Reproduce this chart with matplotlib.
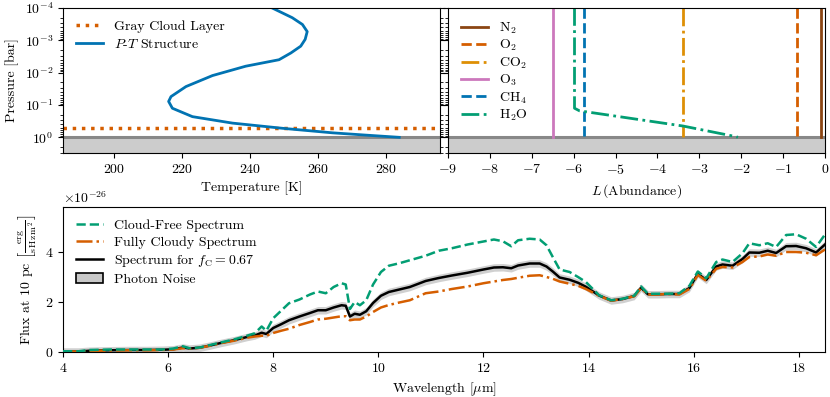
import matplotlib
matplotlib.use('Agg')
import matplotlib.pyplot as plt
import matplotlib.patches as mpatches
import numpy as np

plt.rcParams['font.family'] = ['cmr10', 'DejaVu Serif']
plt.rcParams['mathtext.fontset'] = 'cm'
plt.rcParams['axes.formatter.use_mathtext'] = True
plt.rcParams['font.size'] = 10
plt.rcParams['axes.unicode_minus'] = True

# P-T profile (log10 pressure in bar, temperature in K)
ptLogP = [-4.0, -3.70, -3.49, -3.27, -3.03, -2.82, -2.61, -2.40, -2.20, -1.91, -1.57,
          -1.26, -1.11, -0.90, -0.64, -0.44, -0.28, -0.14, -0.07, 0.0]
ptTemp = [246.6, 252.5, 255.5, 256.9, 256.3, 255.0, 252.1, 248.6, 238.8, 229.0, 221.2,
          216.8, 216.1, 217.2, 223.1, 234.9, 249.6, 264.3, 274.0, 284.0]
cloudPressure = 0.53
surfacePressure = 1.0

# abundances (log10 volume mixing ratio)
gasNames = ['N$_2$', 'O$_2$', 'CO$_2$', 'O$_3$', 'CH$_4$', 'H$_2$O']
gasAbund = [-0.1, -0.68, -3.38, -6.5, -5.75, None]
h2oLogP = [-4.0, -0.90, -0.82, -0.35, -0.02, 0.0]
h2oAbund = [-5.98, -5.98, -5.86, -3.39, -2.12, -2.08]

# spectra (units of 1e-26)
wl = [4.0, 4.3, 4.5, 4.9, 5.3, 5.6, 5.9, 6.1, 6.28, 6.41, 6.6, 6.8, 7.0, 7.25, 7.5, 7.65,
      7.78, 7.87, 8.0, 8.15, 8.3, 8.5, 8.7, 8.85, 9.0, 9.15, 9.3, 9.38, 9.46, 9.55, 9.65,
      9.77, 9.9, 10.05, 10.2, 10.4, 10.6, 10.9, 11.15, 11.4, 11.7, 12.0, 12.2, 12.37,
      12.53, 12.66, 12.88, 13.07, 13.2, 13.32, 13.45, 13.64, 13.8, 13.95, 14.2, 14.43,
      14.65, 14.87, 15.0, 15.13, 15.32, 15.51, 15.73, 15.92, 16.08, 16.24, 16.43, 16.55,
      16.74, 16.93, 17.06, 17.25, 17.41, 17.57, 17.76, 17.95, 18.14, 18.33, 18.5]
fluxFree = [0.03, 0.03, 0.08, 0.1, 0.1, 0.1, 0.1, 0.14, 0.23, 0.15, 0.18, 0.28, 0.38, 0.5,
            0.65, 0.75, 1.02, 0.85, 1.35, 1.65, 1.95, 2.1, 2.3, 2.42, 2.35, 2.6, 2.75, 2.7,
            1.72, 2.0, 1.87, 2.07, 2.7, 3.2, 3.45, 3.55, 3.67, 3.85, 4.05, 4.15, 4.3, 4.42,
            4.5, 4.43, 4.23, 4.47, 4.53, 4.5, 4.27, 3.8, 3.3, 3.2, 3.0, 2.8, 2.27, 2.07,
            2.13, 2.25, 2.62, 2.33, 2.33, 2.33, 2.35, 2.65, 3.22, 2.95, 3.6, 3.7, 3.6, 3.95,
            4.35, 4.27, 4.35, 4.2, 4.68, 4.71, 4.53, 4.2, 4.7]
fluxCloudy = [0.02, 0.02, 0.04, 0.06, 0.07, 0.07, 0.08, 0.1, 0.15, 0.13, 0.17, 0.25, 0.35,
              0.45, 0.57, 0.62, 0.65, 0.65, 0.76, 0.85, 0.93, 1.08, 1.2, 1.3, 1.33, 1.38,
              1.43, 1.43, 1.27, 1.3, 1.3, 1.42, 1.6, 1.78, 1.88, 1.98, 2.07, 2.35, 2.42,
              2.52, 2.62, 2.75, 2.82, 2.88, 2.92, 2.97, 3.05, 3.07, 3.0, 2.93, 2.82, 2.73,
              2.65, 2.52, 2.25, 2.05, 2.12, 2.23, 2.55, 2.3, 2.3, 2.32, 2.3, 2.52, 3.08,
              2.85, 3.33, 3.4, 3.38, 3.6, 3.8, 3.82, 3.9, 3.85, 4.0, 4.0, 3.97, 3.87, 4.1]
fluxMix = [0.02, 0.02, 0.05, 0.07, 0.08, 0.08, 0.09, 0.11, 0.18, 0.14, 0.17, 0.26, 0.36,
           0.47, 0.6, 0.66, 0.77, 0.72, 0.96, 1.11, 1.27, 1.42, 1.56, 1.67, 1.67, 1.78,
           1.87, 1.85, 1.42, 1.53, 1.49, 1.63, 1.96, 2.25, 2.4, 2.5, 2.6, 2.84, 2.96, 3.06,
           3.17, 3.3, 3.38, 3.39, 3.35, 3.46, 3.54, 3.54, 3.42, 3.22, 2.98, 2.89, 2.77,
           2.61, 2.26, 2.06, 2.12, 2.24, 2.57, 2.31, 2.31, 2.32, 2.32, 2.56, 3.13, 2.88,
           3.42, 3.5, 3.45, 3.72, 3.98, 3.97, 4.05, 3.96, 4.23, 4.24, 4.15, 3.98, 4.3]
photonNoise = 0.15

cGreen = '#029e73'
cVerm = '#d55e00'
cOrange = '#de8f05'
cBlue = '#0173b2'
cPink = '#cc78bc'
cBrown = '#8b4513'
gasColors = [cBrown, cVerm, cOrange, cPink, cBlue, cGreen]
gasStyles = ['-', '--', '-.', '-', '--', '-.']

W, H = 830, 397
fig = plt.figure(figsize=(W / 100, H / 100), dpi=100)
ax1 = fig.add_axes([63 / W, 1 - 153 / H, 377 / W, 145 / H])
ax2 = fig.add_axes([448 / W, 1 - 153 / H, 377 / W, 145 / H], sharey=ax1)
ax3 = fig.add_axes([63 / W, 1 - 352 / H, 762 / W, 145 / H])

legendKw = dict(loc='upper left', frameon=False, handlelength=2.0, borderaxespad=0.5)

pressure = 10 ** np.array(ptLogP)
for ax in (ax1, ax2):
	ax.axhspan(surfacePressure, 10, color='#cccccc', zorder=0)
	ax.axhline(surfacePressure, color='#888888', lw=2.2, zorder=1)

ax1.axhline(cloudPressure, color=cVerm, ls=':', lw=2.5, label='Gray Cloud Layer')
ax1.plot(ptTemp, pressure, color=cBlue, lw=2, label='$P$-$T$ Structure')
ax1.set_yscale('log')
ax1.set_ylim(3.05, 1e-4)
ax1.set_xlim(185, 296)
ax1.set_xticks([200, 220, 240, 260, 280])
ax1.set_yticks([1e-4, 1e-3, 1e-2, 1e-1, 1e0])
ax1.tick_params(which='both', right=True)
ax1.set_xlabel('Temperature [K]')
ax1.set_ylabel('Pressure [bar]')
ax1.legend(labelspacing=0.35, **legendKw)

for name, ab, col, ls in zip(gasNames, gasAbund, gasColors, gasStyles):
	if ab is None:
		ax2.plot(h2oAbund, 10 ** np.array(h2oLogP), color=col, ls=ls, lw=2, label=name)
	else:
		ax2.plot([ab, ab], [1e-4, surfacePressure], color=col, ls=ls, lw=2, label=name)
ax2.set_xlim(-9, 0)
ax2.set_xticks(range(-9, 1))
ax2.tick_params(which='both', labelleft=False)
ax2.set_xlabel(r'$L\,$(Abundance)')
ax2.legend(labelspacing=0.15, **legendKw)

wlArr = np.array(wl)
mix = np.array(fluxMix) * 1e-26
ax3.fill_between(wlArr, mix - photonNoise * 1e-26, mix + photonNoise * 1e-26,
                 color='#d0d0d0', lw=0, zorder=1)
lMix, = ax3.plot(wlArr, mix, color='black', lw=1.8, zorder=2)
lCloudy, = ax3.plot(wlArr, np.array(fluxCloudy) * 1e-26, color=cVerm, ls='-.', lw=1.8, zorder=3)
lFree, = ax3.plot(wlArr, np.array(fluxFree) * 1e-26, color=cGreen, ls='--', lw=1.8, zorder=4)
noisePatch = mpatches.Patch(facecolor='#c8c8c8', edgecolor='black', lw=1.2)
ax3.legend([lFree, lCloudy, lMix, noisePatch],
           ['Cloud-Free Spectrum', 'Fully Cloudy Spectrum',
            r'Spectrum for $f_\mathrm{C} = 0.67$', 'Photon Noise'],
           labelspacing=0.3, **legendKw)
ax3.set_xlim(4, 18.5)
ax3.set_ylim(0, 5.8e-26)
ax3.set_yticks([0, 2e-26, 4e-26])
ax3.set_xlabel(r'Wavelength [$\mu$m]')
ax3.set_ylabel(r'Flux at 10 pc $\left[\frac{\mathrm{erg}}{\mathrm{s\,Hz\,m^2}}\right]$')

fig.savefig('out.png', dpi=100)
